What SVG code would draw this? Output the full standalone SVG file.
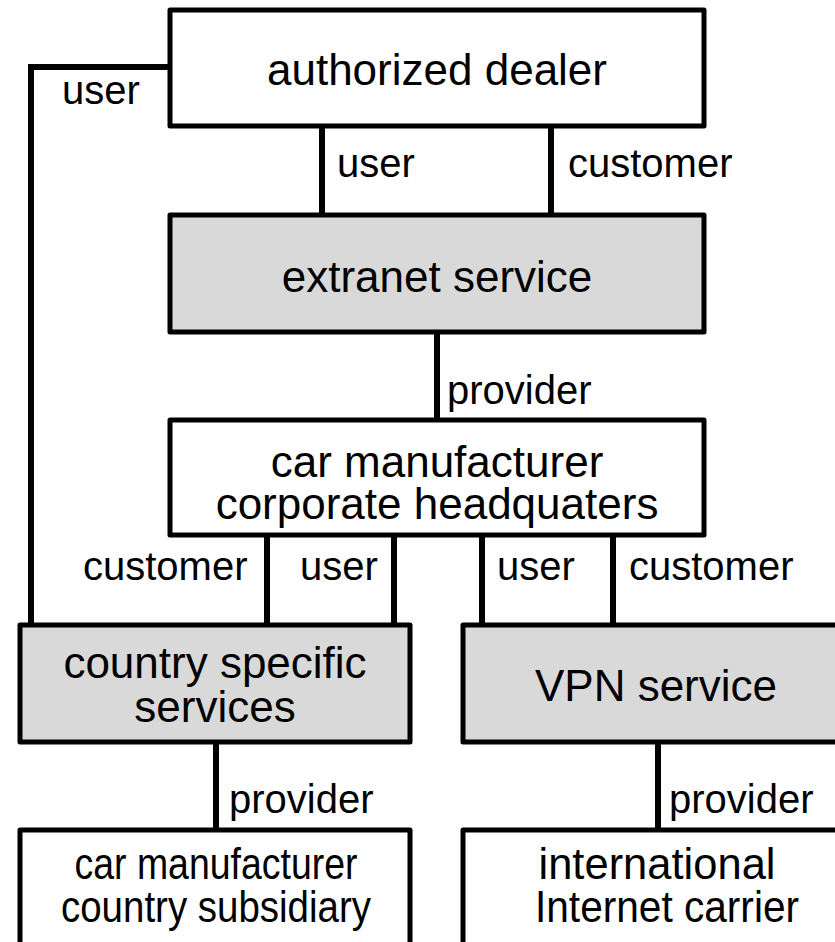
<svg xmlns="http://www.w3.org/2000/svg" width="835" height="942" viewBox="0 0 835 942">
<style>
.box{fill:#ffffff;stroke:#000;stroke-width:5;stroke-linejoin:round}
.svc{fill:#d9d9d9;stroke:#000;stroke-width:5;stroke-linejoin:round}
.t{font-family:"Liberation Sans",Arial,sans-serif;font-size:44px;fill:#000;text-anchor:middle}
.lbl{font-family:"Liberation Sans",Arial,sans-serif;font-size:40px;fill:#000}
.c{fill:none;stroke:#000;stroke-width:6}
</style>
<rect width="835" height="942" fill="#fff"/>
<g id="connectors">
<polyline class="c" points="170,67 31,67 31,625"/>
<line class="c" x1="322" y1="126" x2="322" y2="215"/>
<line class="c" x1="551" y1="126" x2="551" y2="215"/>
<line class="c" x1="437" y1="332" x2="437" y2="420"/>
<line class="c" x1="267" y1="535" x2="267" y2="625"/>
<line class="c" x1="394" y1="535" x2="394" y2="625"/>
<line class="c" x1="482" y1="535" x2="482" y2="625"/>
<line class="c" x1="613" y1="535" x2="613" y2="625"/>
<line class="c" x1="216" y1="742" x2="216" y2="830"/>
<line class="c" x1="658" y1="742" x2="658" y2="830"/>
<text class="lbl" x="62" y="104">user</text>
<text class="lbl" x="337" y="177">user</text>
<text class="lbl" x="568" y="177">customer</text>
<text class="lbl" x="447" y="404">provider</text>
<text class="lbl" x="83" y="580">customer</text>
<text class="lbl" x="300" y="580">user</text>
<text class="lbl" x="497" y="580">user</text>
<text class="lbl" x="629" y="580">customer</text>
<text class="lbl" x="229" y="813">provider</text>
<text class="lbl" x="669" y="813">provider</text>
</g>
<g id="authorized-dealer">
<rect class="box" x="170" y="10" width="534" height="116"/>
<text class="t" x="437" y="85">authorized dealer</text>
</g>
<g id="extranet-service">
<rect class="svc" x="170" y="215" width="534" height="117"/>
<text class="t" x="437" y="292">extranet service</text>
</g>
<g id="car-manufacturer-hq">
<rect class="box" x="170" y="420" width="534" height="115"/>
<text class="t" x="437" y="477">car manufacturer</text>
<text class="t" x="437" y="519">corporate headquaters</text>
</g>
<g id="country-specific-services">
<rect class="svc" x="20" y="625" width="390" height="117"/>
<text class="t" x="215" y="678">country specific</text>
<text class="t" x="215" y="722">services</text>
</g>
<g id="vpn-service">
<rect class="svc" x="463" y="625" width="400" height="117"/>
<text class="t" x="656" y="701">VPN service</text>
</g>
<g id="car-manufacturer-subsidiary">
<rect class="box" x="20" y="830" width="390" height="140"/>
<text class="t" x="216" y="879" textLength="283" lengthAdjust="spacingAndGlyphs">car manufacturer</text>
<text class="t" x="216" y="922" textLength="310" lengthAdjust="spacingAndGlyphs">country subsidiary</text>
</g>
<g id="internet-carrier">
<rect class="box" x="463" y="830" width="400" height="140"/>
<text class="t" x="657" y="879" textLength="237" lengthAdjust="spacingAndGlyphs">international</text>
<text class="t" x="667" y="922" textLength="264" lengthAdjust="spacingAndGlyphs">Internet carrier</text>
</g>
</svg>
